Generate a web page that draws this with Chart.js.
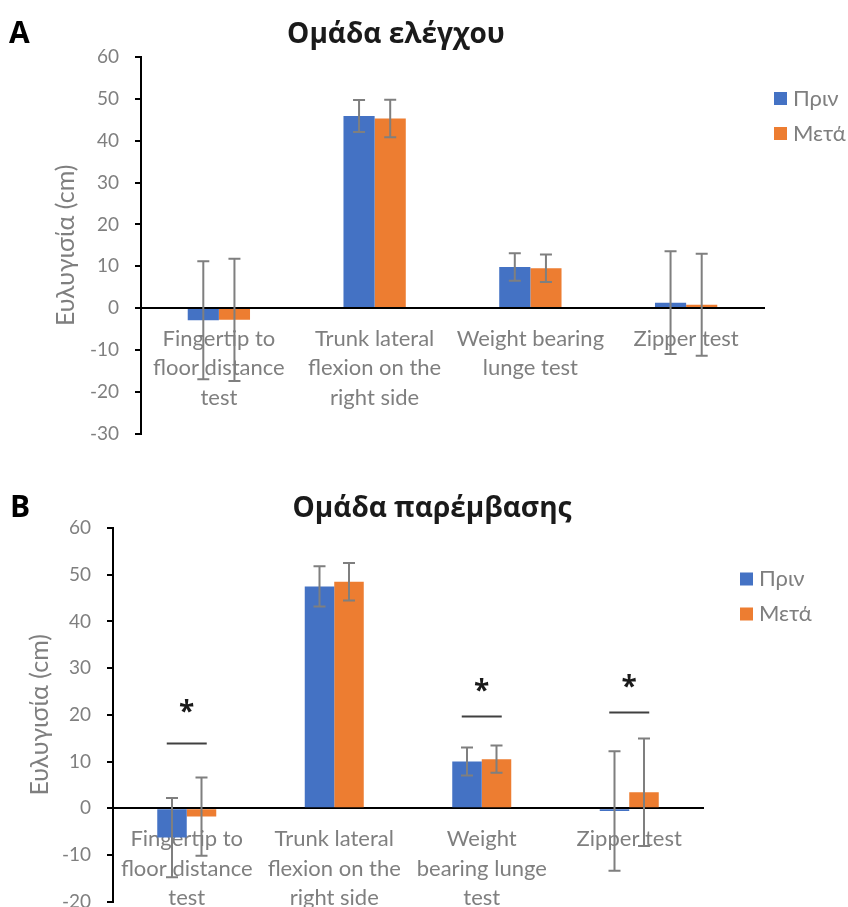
<!DOCTYPE html>
<html>
<head>
<meta charset="utf-8">
<script src="https://cdn.jsdelivr.net/npm/chart.js@4.4.0/dist/chart.umd.min.js"></script>
<style>
  html, body { margin: 0; padding: 0; background: #fff; overflow: hidden; }
  canvas { position: absolute; left: 0; }
  #chartA { top: 0; }
  #chartB { top: 455px; }
</style>
</head>
<body>
<canvas id="chartA" width="848" height="461"></canvas>
<canvas id="chartB" width="848" height="474"></canvas>
<script>
// categories (multi-line labels as arrays)
const categoriesA = [['Fingertip to', 'floor distance', 'test'], ['Trunk lateral', 'flexion on the', 'right side'], ['Weight bearing', 'lunge test'], 'Zipper test'];
const categoriesB = [['Fingertip to', 'floor distance', 'test'], ['Trunk lateral', 'flexion on the', 'right side'], ['Weight', 'bearing lunge', 'test'], 'Zipper test'];
const seriesNames = ['Πριν', 'Μετά'];

// control group, mean and SD (cm)
const beforeA = [-2.9, 45.9, 9.8, 1.3];
const afterA = [-2.8, 45.3, 9.5, 0.8];
const beforeSdA = [14.1, 3.8, 3.3, 12.3];
const afterSdA = [14.6, 4.5, 3.3, 12.2];

// intervention group, mean and SD (cm)
const beforeB = [-6.3, 47.5, 10.0, -0.6];
const afterB = [-1.8, 48.5, 10.5, 3.4];
const beforeSdB = [8.5, 4.3, 3.0, 12.8];
const afterSdB = [8.4, 4.0, 2.9, 11.5];

// significance markers for group B: bar level and asterisk level (null = n.s.)
const sigLineB = [14.0, null, 19.8, 20.6];
const sigStarB = [21.9, null, 26.4, 27.3];

const colors = ['#4472C4', '#ED7D31'];
const gray = '#7f7f7f';

Chart.defaults.font.family = 'Lato, "Open Sans", sans-serif';
Chart.defaults.color = gray;

const errorBars = {
  id: 'errorBars',
  afterDatasetsDraw(chart) {
    const ctx = chart.ctx;
    const y = chart.scales.y;
    ctx.save();
    ctx.strokeStyle = gray;
    ctx.lineWidth = 2;
    chart.data.datasets.forEach((ds, i) => {
      chart.getDatasetMeta(i).data.forEach((bar, j) => {
        const v = ds.data[j], e = ds.sd[j];
        const top = y.getPixelForValue(v + e);
        const bot = y.getPixelForValue(v - e);
        ctx.beginPath();
        ctx.moveTo(bar.x, top); ctx.lineTo(bar.x, bot);
        ctx.moveTo(bar.x - 6, top); ctx.lineTo(bar.x + 6, top);
        ctx.moveTo(bar.x - 6, bot); ctx.lineTo(bar.x + 6, bot);
        ctx.stroke();
      });
    });
    ctx.restore();
  }
};

const sigMarks = {
  id: 'sigMarks',
  afterDatasetsDraw(chart, args, opts) {
    if (!opts.lines) return;
    const {ctx, scales: {x, y}} = chart;
    ctx.save();
    opts.lines.forEach((lv, j) => {
      if (lv === null) return;
      const cx = x.getPixelForValue(j);
      const ly = Math.round(y.getPixelForValue(lv)) + 0.5;
      ctx.strokeStyle = '#404040';
      ctx.lineWidth = 2;
      ctx.beginPath();
      ctx.moveTo(cx - 20, ly); ctx.lineTo(cx + 20, ly);
      ctx.stroke();
      ctx.fillStyle = '#1a1a1a';
      ctx.font = 'bold 28px "Open Sans"';
      ctx.textAlign = 'center';
      ctx.textBaseline = 'alphabetic';
      ctx.fillText('*', cx, y.getPixelForValue(opts.stars[j]) + 15);
    });
    ctx.restore();
  }
};

// panel letter, title and a legend on the right
const heading = {
  id: 'heading',
  afterDraw(chart, args, opts) {
    const ctx = chart.ctx;
    ctx.save();
    ctx.fillStyle = '#000';
    ctx.textBaseline = 'alphabetic';
    ctx.textAlign = 'left';
    ctx.font = 'bold 30px "Open Sans"';
    ctx.fillText(opts.letter, opts.letterX, opts.baseline);
    ctx.fillStyle = '#1a1a1a';
    ctx.textAlign = 'center';
    ctx.font = 'bold 28px "Open Sans"';
    ctx.fillText(opts.text, opts.titleX, opts.baseline);

    ctx.textAlign = 'left';
    ctx.textBaseline = 'middle';
    ctx.font = '22px Lato, "Open Sans"';
    chart.data.datasets.forEach((ds, i) => {
      const cy = opts.legendY + i * 35;
      ctx.fillStyle = ds.backgroundColor;
      ctx.fillRect(opts.legendX, cy - 6.5, 13, 13);
      ctx.fillStyle = gray;
      ctx.fillText(ds.label, opts.legendX + 19, cy);
    });
    ctx.restore();
  }
};

function makeChart(id, labels, before, after, sdBefore, sdAfter, yMin, cfg) {
  return new Chart(document.getElementById(id), {
    type: 'bar',
    data: {
      labels: labels,
      datasets: [
        { label: seriesNames[0], data: before, sd: sdBefore, backgroundColor: colors[0] },
        { label: seriesNames[1], data: after, sd: sdAfter, backgroundColor: colors[1] }
      ]
    },
    options: {
      responsive: false,
      animation: false,
      datasets: { bar: { categoryPercentage: 0.4, barPercentage: 1.0, borderWidth: 0 } },
      layout: { padding: cfg.padding },
      plugins: {
        legend: { display: false },
        tooltip: { enabled: false },
        heading: cfg.heading,
        sigMarks: cfg.sig || {}
      },
      scales: {
        x: {
          position: { y: 0 },
          grid: { drawOnChartArea: false, drawTicks: false },
          border: { color: '#000', width: 2 },
          ticks: { padding: 16, maxRotation: 0, autoSkip: false, color: gray, font: { size: 22, lineHeight: 1.34 } }
        },
        y: {
          min: yMin,
          max: 60,
          ticks: { stepSize: 10, padding: 16, color: gray, font: { size: 19 } },
          grid: { drawOnChartArea: false, drawTicks: true, tickLength: 6, color: '#000', lineWidth: 2 },
          border: { color: '#000', width: 2 },
          title: { display: true, text: 'Ευλυγισία (cm)', color: gray, font: { size: 25 }, padding: { top: cfg.titlePad, bottom: 0 } },
          afterFit(scale) { scale.width = cfg.axisWidth; }
        }
      }
    },
    plugins: [errorBars, sigMarks, heading]
  });
}

makeChart('chartA', categoriesA, beforeA, afterA, beforeSdA, afterSdA, -30, {
  padding: { top: 57, bottom: 0, left: 0, right: 84 },
  axisWidth: 141,
  titlePad: 51,
  heading: { letter: 'A', letterX: 9, text: 'Ομάδα ελέγχου', titleX: 396, baseline: 43, legendX: 774, legendY: 98.5 }
});

makeChart('chartB', categoriesB, beforeB, afterB, beforeSdB, afterSdB, -20, {
  padding: { top: 73, bottom: 0, left: 0, right: 145 },
  axisWidth: 113,
  titlePad: 25,
  heading: { letter: 'B', letterX: 10, text: 'Ομάδα παρέμβασης', titleX: 432, baseline: 62, legendX: 740, legendY: 124 },
  sig: { lines: sigLineB, stars: sigStarB }
});
</script>
</body>
</html>
